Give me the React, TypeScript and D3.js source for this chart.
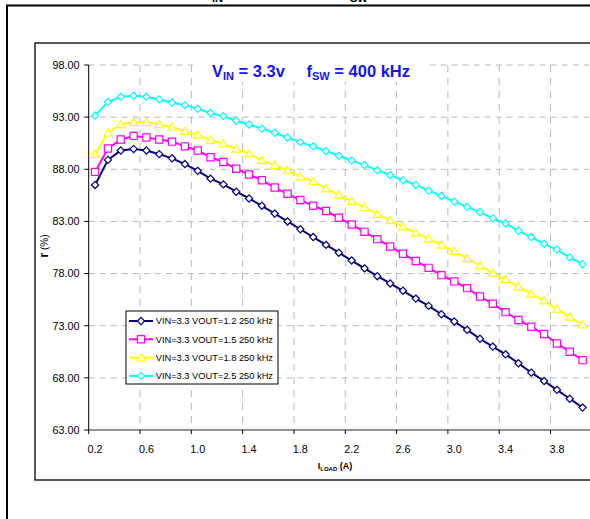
import React from "react";
import * as d3 from "d3";

const categories = ["0.2","0.3","0.4","0.5","0.6","0.7","0.8","0.9","1.0","1.1","1.2","1.3","1.4","1.5","1.6","1.7","1.8","1.9","2.0","2.1","2.2","2.3","2.4","2.5","2.6","2.7","2.8","2.9","3.0","3.1","3.2","3.3","3.4","3.5","3.6","3.7","3.8","3.9","4.0"];

const vout12 = [86.5,88.9,89.8,89.95,89.8,89.45,89.05,88.5,87.85,87.1,86.55,85.85,85.2,84.5,83.75,83.0,82.25,81.5,80.75,80.0,79.25,78.5,77.75,77.05,76.35,75.6,74.9,74.1,73.4,72.6,71.75,71.0,70.25,69.4,68.5,67.7,66.85,66.0,65.15];
const vout15 = [87.75,90.0,90.85,91.2,91.05,90.85,90.65,90.2,89.8,89.15,88.7,88.05,87.5,86.95,86.25,85.65,85.05,84.5,84.0,83.35,82.7,82.0,81.3,80.6,79.9,79.2,78.55,77.85,77.25,76.6,75.8,75.1,74.3,73.55,72.9,72.2,71.3,70.5,69.7];
const vout18 = [89.45,91.5,92.3,92.5,92.5,92.3,92.05,91.65,91.3,90.8,90.45,89.95,89.5,88.85,88.4,87.9,87.3,86.85,86.15,85.55,84.95,84.35,83.7,83.1,82.5,81.9,81.35,80.75,80.15,79.45,78.75,78.05,77.45,76.75,76.05,75.4,74.6,73.85,73.1];
const vout25 = [93.15,94.45,94.95,95.05,94.95,94.7,94.4,94.15,93.8,93.4,93.1,92.65,92.3,91.9,91.5,91.05,90.6,90.2,89.75,89.3,88.85,88.4,87.9,87.45,86.95,86.5,85.95,85.45,84.9,84.4,83.9,83.3,82.8,82.1,81.5,80.85,80.3,79.55,78.9];

const seriesNames = ["VIN=3.3 VOUT=1.2 250 kHz","VIN=3.3 VOUT=1.5 250 kHz","VIN=3.3 VOUT=1.8 250 kHz","VIN=3.3 VOUT=2.5 250 kHz"];
const seriesValues = [vout12, vout15, vout18, vout25];
const seriesColors = ["#000080", "#FF00FF", "#FFFF00", "#00FFFF"];
const seriesMarkers = ["diamond", "square", "triangle", "diamond"];

const yTicks = [63, 68, 73, 78, 83, 88, 93, 98];
const xLabelEvery = 4;

const FONT = "'Liberation Sans', Arial, sans-serif";

function markerPath(kind: string, cx: number, cy: number): string {
  if (kind === "diamond") {
    const r = 3.6;
    return `M${cx},${cy - r}L${cx + r},${cy}L${cx},${cy + r}L${cx - r},${cy}Z`;
  }
  if (kind === "square") {
    const h = 3.6;
    return `M${cx - h},${cy - h}H${cx + h}V${cy + h}H${cx - h}Z`;
  }
  const w = 4.2;
  return `M${cx},${cy - 4}L${cx + w},${cy + 3.2}L${cx - w},${cy + 3.2}Z`;
}

export default function App() {
  const plotLeft = 88.7;
  const plotRight = 589;
  const plotTop = 65;
  const plotBottom = 430;

  const x = d3.scaleBand<string>().domain(categories).range([plotLeft, plotRight]).padding(0);
  const cx = (c: string) => (x(c) as number) + x.bandwidth() / 2;
  const y = d3.scaleLinear().domain([63, 98]).range([plotBottom, plotTop]);

  const line = d3
    .line<number>()
    .x((_, i) => cx(categories[i]))
    .y((d) => y(d));

  const tickCats = categories.filter((_, i) => i % xLabelEvery === 0);

  return (
    <svg width={590} height={519} style={{ position: "absolute", left: 0, top: 0, background: "#fff" }} fontFamily={FONT}>
      <rect x={0} y={0} width={590} height={519} fill="#fff" />
      {/* cut-off caption above the frame */}
      <text x={212} y={2} fontSize={11} fontWeight="bold" fill="#000">IN</text>
      <text x={350} y={2} fontSize={11} fontWeight="bold" fill="#000">SW</text>
      {/* outer frame */}
      <rect x={7} y={5.5} width={700} height={600} fill="none" stroke="#000" strokeWidth={2} />
      {/* inner chart area frame */}
      <rect x={35} y={43} width={700} height={437} fill="none" stroke="#222" strokeWidth={1.5} />

      {/* horizontal gridlines */}
      {yTicks.filter((t) => t !== 63).map((t) => (
        <line key={"hg" + t} x1={plotLeft} x2={plotRight} y1={y(t)} y2={y(t)} stroke="#b8b8b8" strokeWidth={1} strokeDasharray="6,5" />
      ))}
      {/* vertical gridlines */}
      {tickCats.slice(1).map((c) => (
        <line key={"vg" + c} x1={x(c) as number} x2={x(c) as number} y1={plotTop} y2={plotBottom} stroke="#b8b8b8" strokeWidth={1} strokeDasharray="7,6" />
      ))}

      {/* title */}
      <rect x={193} y={57} width={234} height={25} fill="#fff" />
      <text x={212} y={77} fontSize={16.5} fontWeight="bold" fill="#1414FF">
        <tspan>V</tspan>
        <tspan fontSize={11} dy={3}>IN</tspan>
        <tspan dy={-3}> = 3.3v</tspan>
        <tspan x={306.5}>f</tspan>
        <tspan fontSize={11} dy={3}>SW</tspan>
        <tspan dy={-3}> = 400 kHz</tspan>
      </text>

      {/* series */}
      {seriesValues.map((vals, si) => (
        <g key={"s" + si}>
          <path d={line(vals) as string} fill="none" stroke={seriesColors[si]} strokeWidth={2} />
          {vals.map((v, i) => (
            <path key={i} d={markerPath(seriesMarkers[si], cx(categories[i]), y(v))} fill="#fff" stroke={seriesColors[si]} strokeWidth={1.2} />
          ))}
        </g>
      ))}

      {/* y axis */}
      <line x1={plotLeft} x2={plotLeft} y1={plotTop} y2={plotBottom} stroke="#000" strokeWidth={1} />
      {yTicks.map((t) => (
        <g key={"yt" + t}>
          <line x1={plotLeft - 4.5} x2={plotLeft} y1={y(t)} y2={y(t)} stroke="#000" strokeWidth={1} />
          <text x={79.5} y={y(t) + 3.8} fontSize={10.8} textAnchor="end" fill="#000">{d3.format(".2f")(t)}</text>
        </g>
      ))}
      {/* x axis */}
      <line x1={plotLeft} x2={plotRight + 2} y1={plotBottom} y2={plotBottom} stroke="#6e6e6e" strokeWidth={1.5} />
      {tickCats.map((c) => (
        <g key={"xt" + c}>
          <line x1={x(c) as number} x2={x(c) as number} y1={plotBottom} y2={plotBottom + 4} stroke="#000" strokeWidth={1} />
          <text x={cx(c)} y={453} fontSize={10.8} textAnchor="middle" fill="#000">{c}</text>
        </g>
      ))}

      {/* axis titles */}
      <text x={335} y={469} fontSize={9} fontWeight="bold" textAnchor="middle" fill="#000">
        <tspan>I</tspan>
        <tspan fontSize={6} dy={1.5}>LOAD</tspan>
        <tspan dy={-1.5}> (A)</tspan>
      </text>
      <text transform="translate(48,246) rotate(-90)" fontSize={10} fontWeight="bold" textAnchor="middle" fill="#000">
        <tspan fontSize={12}>r</tspan>
        <tspan fontWeight="normal"> (%)</tspan>
      </text>

      {/* legend */}
      <rect x={126} y={311} width={152} height={73} fill="#fff" stroke="#000" strokeWidth={1} />
      {seriesNames.map((name, si) => {
        const ly = 321 + si * 18.3;
        return (
          <g key={"lg" + si}>
            <line x1={129} x2={153} y1={ly} y2={ly} stroke={seriesColors[si]} strokeWidth={2} />
            <path d={markerPath(seriesMarkers[si], 141, ly)} fill="#fff" stroke={seriesColors[si]} strokeWidth={1.2} />
            <text x={155.7} y={ly + 3.3} fontSize={9.3} fill="#000">{name}</text>
          </g>
        );
      })}
    </svg>
  );
}
